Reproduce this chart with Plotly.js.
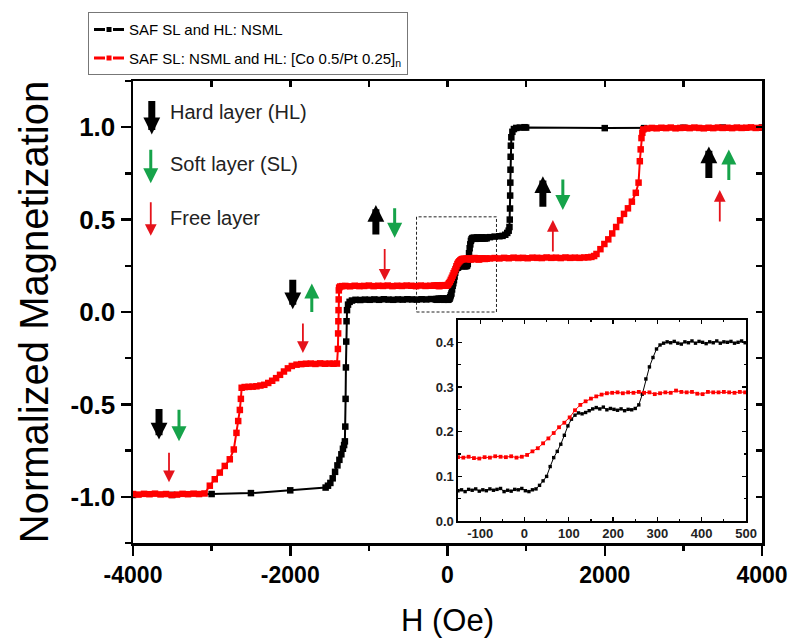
<!DOCTYPE html>
<html>
<head>
<meta charset="utf-8">
<script src="https://cdn.plot.ly/plotly-3.0.1.min.js"></script>
<style>html,body{margin:0;padding:0;background:#fff;}#chart{width:795px;height:644px;}</style>
</head>
<body>
<div id="chart"></div>
<script>
// ---------- data ----------
const seriesNames = ['SAF SL and HL: NSML', 'SAF SL: NSML and HL: [Co 0.5/Pt 0.25]<sub>n</sub>'];

// tick labels (hyphen minus, as in the reference)
const mainXTicks = [-4000, -2000, 0, 2000, 4000];
const mainXLabels = ['-4000', '-2000', '0', '2000', '4000'];
const mainYTicks = [-1.0, -0.5, 0.0, 0.5, 1.0];
const mainYLabels = ['-1.0', '-0.5', '0.0', '0.5', '1.0'];
const insetXTicks = [-100, 0, 100, 200, 300, 400, 500];
const insetXLabels = ['-100', '0', '100', '200', '300', '400', '500'];
const insetYTicks = [0.0, 0.1, 0.2, 0.3, 0.4];
const insetYLabels = ['0.0', '0.1', '0.2', '0.3', '0.4'];

// inset (zoom -150 .. 500 Oe)
const insetBlackH = [-150,-142,-134,-126,-118,-110,-102,-94,-86,-78,-70,-62,-54,-46,-38,-30,-22,-14,-6,2,10,18,26,34,42,50,58,66,74,82,90,98,106,114,122,130,138,146,154,162,170,178,186,194,202,210,218,226,234,242,250,258,266,274,282,290,298,306,314,322,330,338,346,354,362,370,378,386,394,402,410,418,426,434,442,450,458,466,474,482,490,498];
const insetBlackM = [0.068,0.070,0.066,0.071,0.069,0.072,0.067,0.070,0.068,0.072,0.069,0.071,0.073,0.066,0.069,0.067,0.071,0.070,0.073,0.068,0.066,0.070,0.072,0.080,0.090,0.100,0.122,0.142,0.156,0.172,0.192,0.213,0.228,0.237,0.242,0.240,0.243,0.247,0.251,0.254,0.251,0.255,0.249,0.252,0.250,0.248,0.251,0.247,0.250,0.249,0.252,0.260,0.284,0.318,0.345,0.366,0.385,0.394,0.398,0.401,0.399,0.402,0.398,0.396,0.401,0.399,0.403,0.398,0.402,0.400,0.397,0.401,0.399,0.403,0.398,0.401,0.400,0.402,0.398,0.400,0.403,0.399];
const insetRedH = [-150,-138,-126,-114,-102,-90,-78,-66,-54,-42,-30,-18,-6,6,18,30,42,54,66,78,90,102,114,126,138,150,162,174,186,198,210,222,234,246,258,270,282,294,306,318,330,342,354,366,378,390,402,414,426,438,450,462,474,486,498];
const insetRedM = [0.143,0.142,0.144,0.141,0.140,0.143,0.142,0.145,0.144,0.143,0.145,0.142,0.144,0.148,0.156,0.163,0.174,0.185,0.197,0.210,0.220,0.232,0.248,0.260,0.268,0.274,0.279,0.283,0.286,0.287,0.288,0.286,0.288,0.287,0.289,0.287,0.288,0.284,0.286,0.288,0.287,0.292,0.289,0.288,0.289,0.285,0.284,0.289,0.288,0.288,0.289,0.288,0.287,0.289,0.288];

// main loop, outside the inset window
const blackLowH = [-4000,-3500,-3000,-2500,-2000,-1550,-1520,-1490,-1460,-1430,-1400,-1375,-1350,-1330,-1315,-1305,-1300,-1296,-1292,-1288,-1284,-1278,-1265,-1245,-1215,-1170,-1110,-1050,-990,-930,-870,-810,-750,-690,-630,-570,-510,-450,-390,-330,-270,-210];
const blackLowM = [-0.99,-0.99,-0.985,-0.98,-0.965,-0.95,-0.94,-0.925,-0.9,-0.865,-0.83,-0.8,-0.77,-0.74,-0.72,-0.7,-0.62,-0.47,-0.3,-0.16,-0.05,0.01,0.04,0.055,0.062,0.066,0.065,0.067,0.066,0.068,0.066,0.069,0.067,0.066,0.068,0.067,0.069,0.068,0.067,0.069,0.068,0.07];
const blackHighH = [540,600,660,700,735,760,778,788,792,795,797,799,801,803,806,812,825,845,875,920,980,1000,2000,2500,3000,3500,4000];
const blackHighM = [0.405,0.408,0.41,0.412,0.418,0.428,0.44,0.46,0.5,0.56,0.63,0.7,0.77,0.84,0.9,0.945,0.975,0.99,0.996,0.998,1.0,0.998,0.995,0.995,0.997,0.998,0.998];

const redLowH = [-4000,-3930,-3860,-3790,-3720,-3650,-3580,-3510,-3440,-3370,-3300,-3230,-3160,-3090,-3023,-2960,-2896,-2833,-2769,-2718,-2684,-2662,-2641,-2628,-2618,-2580,-2530,-2480,-2430,-2380,-2330,-2280,-2230,-2180,-2130,-2080,-2030,-1980,-1920,-1860,-1800,-1740,-1680,-1620,-1560,-1500,-1450,-1405,-1394,-1391,-1388,-1386,-1384,-1382,-1378,-1365,-1340,-1300,-1240,-1180,-1120,-1060,-1000,-940,-880,-820,-760,-700,-640,-580,-520,-460,-400,-340,-280,-220,-170];
const redLowM = [-0.985,-0.988,-0.984,-0.986,-0.983,-0.987,-0.985,-0.99,-0.988,-0.984,-0.986,-0.983,-0.985,-0.982,-0.94,-0.905,-0.869,-0.833,-0.797,-0.744,-0.654,-0.59,-0.53,-0.47,-0.41,-0.406,-0.405,-0.404,-0.402,-0.398,-0.394,-0.384,-0.372,-0.358,-0.34,-0.322,-0.305,-0.292,-0.285,-0.282,-0.28,-0.279,-0.281,-0.278,-0.28,-0.279,-0.28,-0.279,-0.2,-0.116,-0.05,0.01,0.068,0.117,0.132,0.138,0.14,0.141,0.139,0.142,0.14,0.141,0.143,0.14,0.142,0.141,0.143,0.14,0.142,0.141,0.143,0.142,0.14,0.143,0.141,0.142,0.143];
const redHighH = [540,600,660,720,780,840,900,960,1020,1080,1140,1200,1260,1320,1380,1440,1500,1560,1620,1680,1740,1790,1830,1865,1895,1945,1995,2045,2095,2145,2195,2245,2295,2345,2395,2430,2446,2457,2467,2478,2490,2540,2600,2660,2720,2780,2840,2900,2960,3020,3080,3140,3200,3260,3320,3380,3440,3500,3560,3620,3680,3740,3800,3860,3920,4000];
const redHighM = [0.29,0.292,0.29,0.293,0.291,0.294,0.292,0.293,0.291,0.294,0.293,0.292,0.295,0.293,0.294,0.292,0.295,0.293,0.294,0.293,0.295,0.296,0.298,0.303,0.314,0.34,0.368,0.393,0.425,0.46,0.496,0.531,0.561,0.597,0.645,0.7,0.816,0.88,0.941,0.97,0.988,0.993,0.996,0.994,0.997,0.995,0.998,0.994,0.996,0.997,0.995,0.998,0.996,0.994,0.997,0.995,0.998,0.996,0.997,0.995,0.998,0.996,0.997,0.999,0.996,0.998];

const mainBlackH = blackLowH.concat(insetBlackH, blackHighH);
const mainBlackM = blackLowM.concat(insetBlackM, blackHighM);
const mainRedH = redLowH.concat(insetRedH, redHighH);
const mainRedM = redLowM.concat(insetRedM, redHighM);

const layerLabels = ['Hard layer (HL)', 'Soft layer (SL)', 'Free layer'];

// ---------- traces ----------
const BLACK = '#000000', RED = '#ff0000', GREEN = '#16a34a', DRED = '#e5131b';
const FONT = 'Arial, "Liberation Sans", Helvetica, sans-serif';

const traces = [
  {x: mainBlackH, y: mainBlackM, mode: 'lines+markers', xaxis: 'x', yaxis: 'y', showlegend: false,
   line: {color: BLACK, width: 2}, marker: {symbol: 'square', size: 6.5, color: BLACK}},
  {x: mainRedH, y: mainRedM, mode: 'lines+markers', xaxis: 'x', yaxis: 'y', showlegend: false,
   line: {color: RED, width: 2}, marker: {symbol: 'square', size: 6.5, color: RED}},
  // legend entries
  {x: [null], y: [null], name: seriesNames[0], mode: 'lines+markers', legendgroup: 'a',
   line: {color: BLACK, width: 3, dash: '11px,8px'}, marker: {symbol: 'square', size: 5, color: BLACK}},
  {x: [null], y: [null], name: seriesNames[1], mode: 'lines+markers', legendgroup: 'b',
   line: {color: RED, width: 3, dash: '11px,8px'}, marker: {symbol: 'square', size: 5, color: RED}},
  // mirror axes carrier
  {x: [null], y: [null], xaxis: 'x2', yaxis: 'y2', showlegend: false, hoverinfo: 'skip', mode: 'markers'},
  // inset
  {x: insetBlackH, y: insetBlackM, mode: 'lines+markers', xaxis: 'x3', yaxis: 'y3', showlegend: false,
   line: {color: BLACK, width: 1}, marker: {symbol: 'square', size: 3.4, color: BLACK}},
  {x: insetRedH, y: insetRedM, mode: 'lines+markers', xaxis: 'x3', yaxis: 'y3', showlegend: false,
   line: {color: RED, width: 1}, marker: {symbol: 'square', size: 3.8, color: RED}}
];

// ---------- arrows (tip position, tail offset in px) ----------
function arrow(x, y, ay, kind) {
  const st = {
    k: {color: BLACK, w: 7, s: 0.48},
    g: {color: GREEN, w: 3, s: 1.0},
    r: {color: DRED, w: 1.8, s: 1.3}
  }[kind];
  return {x: x, y: y, xref: 'x', yref: 'y', ax: 0, ay: ay, axref: 'pixel', ayref: 'pixel',
          text: '', showarrow: true, arrowhead: 2, arrowsize: st.s, arrowwidth: st.w,
          arrowcolor: st.color, standoff: 0, startstandoff: 0};
}
const annotations = [
  arrow(-3761, 0.961, -35, 'k'),
  arrow(-3774, 0.697, -35, 'g'),
  arrow(-3774, 0.412, -35, 'r'),
  arrow(-911, 0.579, 31, 'k'),
  arrow(-672, 0.402, -31, 'g'),
  arrow(-799, 0.170, -33, 'r'),
  arrow(-1968, 0.015, -31, 'k'),
  arrow(-1726, 0.154, 30, 'g'),
  arrow(-3669, -0.690, -32, 'k'),
  arrow(-3415, -0.700, -33, 'g'),
  arrow(-3542, -0.921, -31, 'r'),
  arrow(-1839, -0.222, -31, 'r'),
  arrow(1213, 0.735, 32, 'k'),
  arrow(1467, 0.552, -32, 'g'),
  arrow(1340, 0.498, 33, 'r'),
  arrow(3324, 0.896, 33, 'k'),
  arrow(3578, 0.880, 32, 'g'),
  arrow(3463, 0.660, 33, 'r'),
  {x: -3557, y: 1.084, xref: 'x', yref: 'y', text: layerLabels[0], showarrow: false, xanchor: 'left', yanchor: 'middle', font: {family: FONT, size: 20, color: '#222'}},
  {x: -3557, y: 0.800, xref: 'x', yref: 'y', text: layerLabels[1], showarrow: false, xanchor: 'left', yanchor: 'middle', font: {family: FONT, size: 20, color: '#222'}},
  {x: -3557, y: 0.509, xref: 'x', yref: 'y', text: layerLabels[2], showarrow: false, xanchor: 'left', yanchor: 'middle', font: {family: FONT, size: 20, color: '#222'}}
];

const axLine = {showline: true, linecolor: '#000', linewidth: 2.5, zeroline: false, showgrid: false};

const layout = {
  width: 795, height: 644,
  margin: {l: 133, r: 33, t: 79, b: 101, pad: 0},
  paper_bgcolor: '#fff', plot_bgcolor: '#fff',
  font: {family: FONT, color: '#000'},
  showlegend: true,
  legend: {x: -0.0715, y: 1.149, xanchor: 'left', yanchor: 'top', bgcolor: '#fff',
           bordercolor: '#777', borderwidth: 1, font: {family: FONT, size: 15, color: '#000'},
           traceorder: 'grouped', tracegroupgap: 6},
  xaxis: Object.assign({}, axLine, {
    domain: [0, 1], anchor: 'y', range: [-4000, 4000],
    tickmode: 'array', tickvals: mainXTicks, ticktext: mainXLabels,
    ticks: 'outside', ticklen: 10, tickwidth: 2.5, tickcolor: '#000',
    minor: {dtick: 1000, tick0: -4000, ticks: 'outside', ticklen: 5, tickwidth: 2.5, tickcolor: '#000'},
    tickfont: {family: FONT, size: 23, weight: 'bold'},
    title: {text: 'H (Oe)', font: {family: FONT, size: 31}, standoff: 22}
  }),
  yaxis: Object.assign({}, axLine, {
    domain: [0, 1], anchor: 'x', range: [-1.25, 1.25],
    tickmode: 'array', tickvals: mainYTicks, ticktext: mainYLabels,
    ticks: 'outside', ticklen: 10, tickwidth: 2.5, tickcolor: '#000',
    minor: {dtick: 0.25, tick0: 0, ticks: 'outside', ticklen: 6, tickwidth: 2.5, tickcolor: '#000'},
    tickfont: {family: FONT, size: 26, weight: 'bold'},
    title: {text: 'Normalized Magnetization', font: {family: FONT, size: 40}, standoff: 10}
  }),
  xaxis2: Object.assign({}, axLine, {
    overlaying: 'x', anchor: 'y2', side: 'top', range: [-4000, 4000], tick0: -4000, dtick: 2000,
    ticks: 'inside', ticklen: 6, tickwidth: 2.5, tickcolor: '#000', showticklabels: false,
    minor: {dtick: 1000, tick0: -4000, ticks: 'inside', ticklen: 6, tickwidth: 2.5, tickcolor: '#000'}
  }),
  yaxis2: Object.assign({}, axLine, {
    overlaying: 'y', anchor: 'x2', side: 'right', range: [-1.25, 1.25], tick0: 0, dtick: 0.5,
    ticks: 'inside', ticklen: 6, tickwidth: 2.5, tickcolor: '#000', showticklabels: false,
    minor: {dtick: 0.25, tick0: 0, ticks: 'inside', ticklen: 6, tickwidth: 2.5, tickcolor: '#000'}
  }),
  xaxis3: {
    domain: [0.5167, 0.9746], anchor: 'y3', range: [-150, 500],
    tickmode: 'array', tickvals: insetXTicks, ticktext: insetXLabels,
    showline: true, linecolor: '#000', linewidth: 1.6, mirror: 'allticks', zeroline: false, showgrid: false,
    ticks: 'inside', ticklen: 4, tickwidth: 1.3, tickcolor: '#000',
    minor: {dtick: 50, tick0: 0, ticks: 'inside', ticklen: 2.5, tickwidth: 1.2, tickcolor: '#000'},
    tickfont: {family: FONT, size: 13, color: '#222', weight: 'bold'}
  },
  yaxis3: {
    domain: [0.0474, 0.4828], anchor: 'x3', range: [0, 0.45],
    tickmode: 'array', tickvals: insetYTicks, ticktext: insetYLabels,
    showline: true, linecolor: '#000', linewidth: 1.6, mirror: 'allticks', zeroline: false, showgrid: false,
    ticks: 'inside', ticklen: 4, tickwidth: 1.3, tickcolor: '#000',
    minor: {dtick: 0.05, tick0: 0, ticks: 'inside', ticklen: 2.5, tickwidth: 1.2, tickcolor: '#000'},
    tickfont: {family: FONT, size: 13, color: '#222', weight: 'bold'}
  },
  shapes: [
    {type: 'rect', xref: 'x', yref: 'y', x0: -394, x1: 623, y0: 0.0, y1: 0.515, layer: 'below',
     line: {color: '#222', width: 1, dash: '3px,2px'}}
  ],
  annotations: annotations
};

Plotly.newPlot('chart', traces, layout, {staticPlot: true, displayModeBar: false});
</script>
</body>
</html>
